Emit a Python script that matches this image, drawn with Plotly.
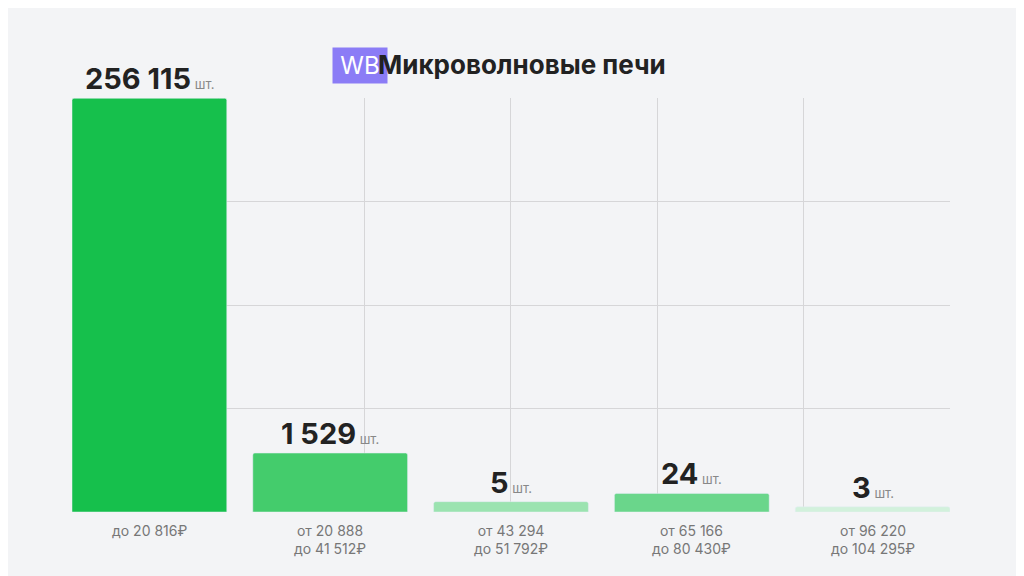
import plotly.graph_objects as go

categories = ["до 20 816₽", "от 20 888<br>до 41 512₽", "от 43 294<br>до 51 792₽", "от 65 166<br>до 80 430₽", "от 96 220<br>до 104 295₽"]
counts = [256115, 1529, 5, 24, 3]
count_labels = ["256 115", "1 529", "5", "24", "3"]
# displayed bar heights (grid units)
heights = [4.0, 0.57, 0.1, 0.18, 0.05]
colors = ["#16c04c", "#44cc6c", "#9be3b0", "#6ad68b", "#d2f1dc"]

xs = list(range(len(categories)))
fig = go.Figure(go.Bar(x=xs, y=heights, marker=dict(color=colors, cornerradius=2), width=0.856,
                       customdata=counts, hoverinfo="skip"))
for x, h, lab, cat in zip(xs, heights, count_labels, categories):
    fig.add_annotation(x=x, y=h, yshift=0, text=f"<b>{lab}</b><span style='font-size:13px;color:#888'> шт.</span>",
                       showarrow=False, yanchor="bottom", font=dict(size=29, color="#222", family="Inter"))
    fig.add_annotation(x=x, y=0, yshift=-8, text=cat, showarrow=False, yanchor="top",
                       font=dict(size=14, color="#777", family="Inter"))
fig.add_annotation(xref="paper", yref="paper", x=0.296, y=1.123, text="WB", showarrow=False,
                   bgcolor="#8b7cf6", font=dict(color="white", size=24, family="Inter"),
                   width=52, height=33)
fig.add_annotation(xref="paper", yref="paper", x=0.346, y=1.123, xanchor="left",
                   text="<b>Микроволновые печи</b>", showarrow=False,
                   font=dict(color="#222", size=26, family="Inter"))
fig.update_layout(
    width=1024, height=576, margin=dict(l=64, r=82, t=90, b=72),
    paper_bgcolor="#f3f4f6", plot_bgcolor="#f3f4f6", showlegend=False,
    xaxis=dict(range=[-0.428, 4.428], tick0=-0.428, dtick=0.8093, showticklabels=False,
               gridcolor="#d6d6d8", zeroline=False, showline=False),
    yaxis=dict(range=[0, 4.003], dtick=1, showticklabels=False, gridcolor="#d6d6d8", zeroline=False),
)
fig.write_html("out.html")
